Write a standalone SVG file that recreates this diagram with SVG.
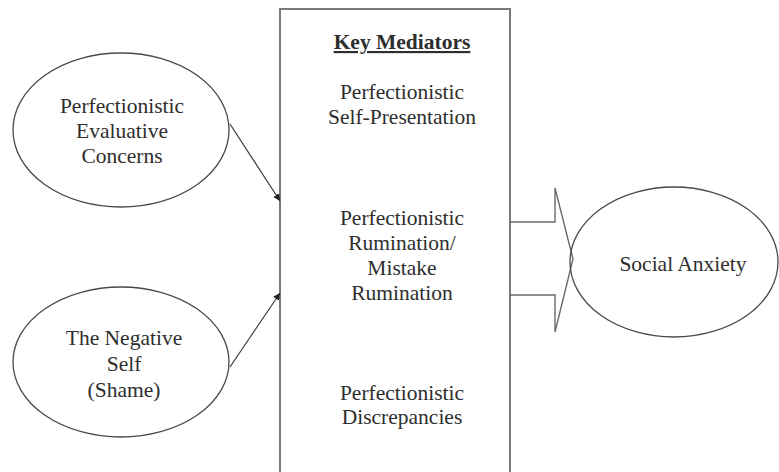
<svg xmlns="http://www.w3.org/2000/svg" width="779" height="472" viewBox="0 0 779 472">
<style>
text{font-family:"Liberation Serif","Times New Roman",serif;font-size:21.5px;fill:#2e2e2e;text-anchor:middle}
.ell{fill:#fff;stroke:#4a4a4a;stroke-width:1.3}
.box{fill:#fff;stroke:#7a7a7a;stroke-width:2}
.ln{fill:none;stroke:#3a3a3a;stroke-width:1.2}
.blk{fill:none;stroke:#6a6a6a;stroke-width:1.4}
</style>
<defs>
<marker id="ah" markerWidth="8" markerHeight="8" refX="7" refY="4" orient="auto" markerUnits="userSpaceOnUse">
<path d="M0,0.5 L7,4 L0,7.5 Z" fill="#222"/>
</marker>
</defs>
<rect width="779" height="472" fill="#fff"/>
<g id="mediators">
<rect class="box" x="280" y="9" width="230" height="475"/>
<text x="402" y="49" style="font-weight:bold;text-decoration:underline">Key Mediators</text>
<text x="402" y="99">Perfectionistic</text>
<text x="402" y="124">Self-Presentation</text>
<text x="402" y="225">Perfectionistic</text>
<text x="402" y="250">Rumination/</text>
<text x="402" y="275">Mistake</text>
<text x="402" y="300">Rumination</text>
<text x="402" y="400">Perfectionistic</text>
<text x="402" y="424">Discrepancies</text>
</g>
<g id="connectors">
<line class="ln" x1="230" y1="124" x2="280" y2="201" marker-end="url(#ah)"/>
<line class="ln" x1="230" y1="367" x2="280" y2="293" marker-end="url(#ah)"/>
<path class="blk" d="M510,222 L555,222 L555,188 L573,259 L555,332 L555,295 L510,295"/>
</g>
<g id="pec">
<ellipse class="ell" cx="121" cy="130" rx="108" ry="77"/>
<text x="122" y="113">Perfectionistic</text>
<text x="122" y="138">Evaluative</text>
<text x="122" y="163">Concerns</text>
</g>
<g id="negself">
<ellipse class="ell" cx="121" cy="362" rx="108" ry="75"/>
<text x="124" y="345">The Negative</text>
<text x="124" y="371">Self</text>
<text x="124" y="397">(Shame)</text>
</g>
<g id="social">
<ellipse class="ell" cx="674" cy="262" rx="104" ry="75" style="fill:none"/>
<text x="683" y="271">Social Anxiety</text>
</g>
</svg>
